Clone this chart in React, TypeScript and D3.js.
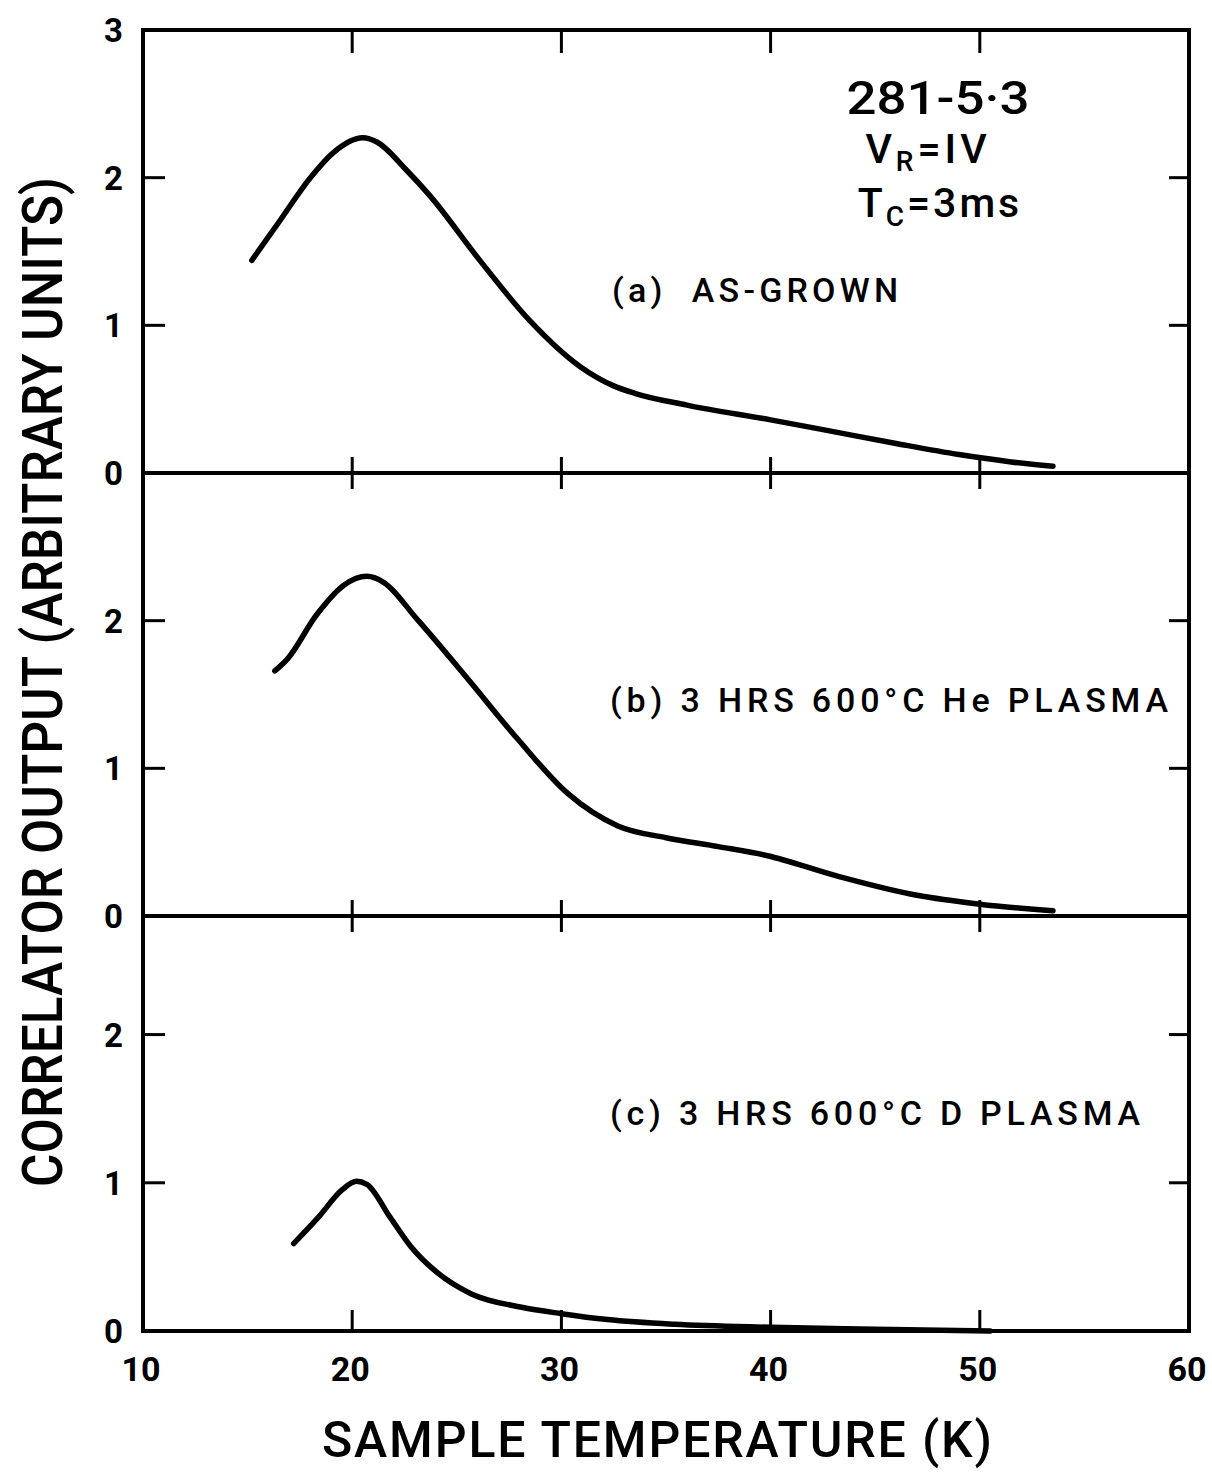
import React from "react";
import * as d3 from "d3";

// (a) as-grown
const tempA = [15.2, 16.5, 18.0, 19.1, 20.5, 21.2, 22.6, 23.7, 26.1, 28.5, 30.9, 32.5, 33.5, 36.0, 40.0, 43.0, 46.0, 49.0, 51.5, 53.5];
const outA = [1.44, 1.70, 2.0, 2.17, 2.27, 2.24, 2.05, 1.88, 1.44, 1.03, 0.72, 0.59, 0.54, 0.46, 0.36, 0.28, 0.20, 0.125, 0.075, 0.045];

// (b) He plasma
const tempB = [16.3, 16.9, 18.3, 19.6, 20.7, 21.5, 23.1, 25.5, 27.9, 30.3, 32.7, 35.0, 37.5, 39.8, 43.2, 47.0, 50.0, 53.5];
const outB = [1.66, 1.74, 2.04, 2.24, 2.30, 2.26, 2.01, 1.61, 1.20, 0.83, 0.61, 0.53, 0.47, 0.41, 0.27, 0.14, 0.08, 0.035];

// (c) D plasma
const tempC = [17.2, 18.4, 19.5, 20.2, 20.7, 21.8, 22.8, 24.1, 25.7, 28.1, 30.0, 32.2, 35.4, 40.0, 45.0, 50.5];
const outC = [0.59, 0.77, 0.95, 1.01, 0.99, 0.77, 0.57, 0.39, 0.25, 0.16, 0.117, 0.077, 0.045, 0.025, 0.012, 0.0];

const xTickValues = [10, 20, 30, 40, 50, 60];
const panelNames = ["(a)  AS-GROWN", "(b) 3 HRS 600°C He PLASMA", "(c) 3 HRS 600°C D PLASMA"];
const panelTickLabels = [[0, 1, 2, 3], [0, 1, 2], [0, 1, 2]];
const panelMax = [3, 3, 2.8];

const FONT = "Roboto, 'Liberation Sans', sans-serif";

export default function App() {
  const left = 143, right = 1189;
  const bounds = [[30, 473], [473, 916], [916, 1331]];

  const x = d3.scaleLinear().domain([10, 60]).range([left, right]);
  const ys = bounds.map(([t, b], i) => d3.scaleLinear().domain([0, panelMax[i]]).range([b, t]));

  const series = [
    tempA.map((t, i) => [t, outA[i]]),
    tempB.map((t, i) => [t, outB[i]]),
    tempC.map((t, i) => [t, outC[i]]),
  ];

  const labelPos = [
    { x: 612, y: 302, len: 286 },
    { x: 610, y: 712, len: 558 },
    { x: 610, y: 1125, len: 530 },
  ];

  const top = bounds[0][0];
  const bottom = bounds[2][1];

  return (
    <svg width={1212} height={1472} style={{ position: "absolute", left: 0, top: 0, background: "#fff" }}>
      {/* frame */}
      <rect x={left} y={top} width={right - left} height={bottom - top} fill="none" stroke="#000" strokeWidth={4} />
      {bounds.slice(1).map(([t]) => (
        <line key={t} x1={left} x2={right} y1={t} y2={t} stroke="#000" strokeWidth={4} />
      ))}

      {/* x ticks */}
      {xTickValues.slice(1, -1).map((v) => (
        <g key={v} stroke="#000" strokeWidth={3}>
          <line x1={x(v)} x2={x(v)} y1={top} y2={top + 23} />
          <line x1={x(v)} x2={x(v)} y1={bounds[1][0] - 16} y2={bounds[1][0] + 16} />
          <line x1={x(v)} x2={x(v)} y1={bounds[2][0] - 16} y2={bounds[2][0] + 16} />
          <line x1={x(v)} x2={x(v)} y1={bottom - 21} y2={bottom} />
        </g>
      ))}
      {xTickValues.map((v) => (
        <text key={v} x={x(v) - 2} y={1381} textAnchor="middle" fontFamily={FONT} fontWeight={700} fontSize={34}>
          {v}
        </text>
      ))}

      {/* y ticks and panels */}
      {ys.map((y, i) => (
        <g key={i}>
          {[1, 2].map((v) => (
            <g key={v} stroke="#000" strokeWidth={3}>
              <line x1={left} x2={left + 22} y1={y(v)} y2={y(v)} />
              <line x1={right - 20} x2={right} y1={y(v)} y2={y(v)} />
            </g>
          ))}
          {panelTickLabels[i].map((v) => (
            <text key={v} x={123} y={y(v) + 12} textAnchor="end" fontFamily={FONT} fontWeight={700} fontSize={33}>
              {v}
            </text>
          ))}
          <path
            d={d3.line().x((d) => x(d[0])).y((d) => y(d[1])).curve(d3.curveMonotoneX)(series[i] as [number, number][]) || ""}
            fill="none"
            stroke="#000"
            strokeWidth={5.5}
            strokeLinecap="round"
            strokeLinejoin="round"
          />
          <text
            x={labelPos[i].x}
            y={labelPos[i].y}
            textLength={labelPos[i].len}
            lengthAdjust="spacing"
            fontFamily={FONT}
            fontWeight={500}
            fontSize={34}
            style={{ whiteSpace: "pre" }}
          >
            {panelNames[i]}
          </text>
        </g>
      ))}

      {/* annotation */}
      <g fontFamily={FONT} fontWeight={500} textAnchor="middle">
        <text x={938} y={114} fontSize={47} textLength={183} lengthAdjust="spacingAndGlyphs">281-5·3</text>
        <text x={928} y={163} fontSize={41} letterSpacing={4}>
          V<tspan fontSize={28} dy={8}>R</tspan><tspan dy={-8}>=IV</tspan>
        </text>
        <text x={940} y={217} fontSize={41} letterSpacing={3}>
          T<tspan fontSize={28} dy={9}>C</tspan><tspan dy={-9}>=3ms</tspan>
        </text>
      </g>

      {/* axis titles */}
      <text
        x={657}
        y={1457}
        textAnchor="middle"
        fontFamily={FONT}
        fontWeight={500}
        fontSize={50}
        textLength={670}
        lengthAdjust="spacing"
      >
        SAMPLE TEMPERATURE (K)
      </text>
      <text
        transform="translate(62,682) rotate(-90)"
        textAnchor="middle"
        fontFamily={FONT}
        fontWeight={500}
        fontSize={56}
        textLength={1010}
        lengthAdjust="spacingAndGlyphs"
      >
        CORRELATOR OUTPUT (ARBITRARY UNITS)
      </text>
    </svg>
  );
}
